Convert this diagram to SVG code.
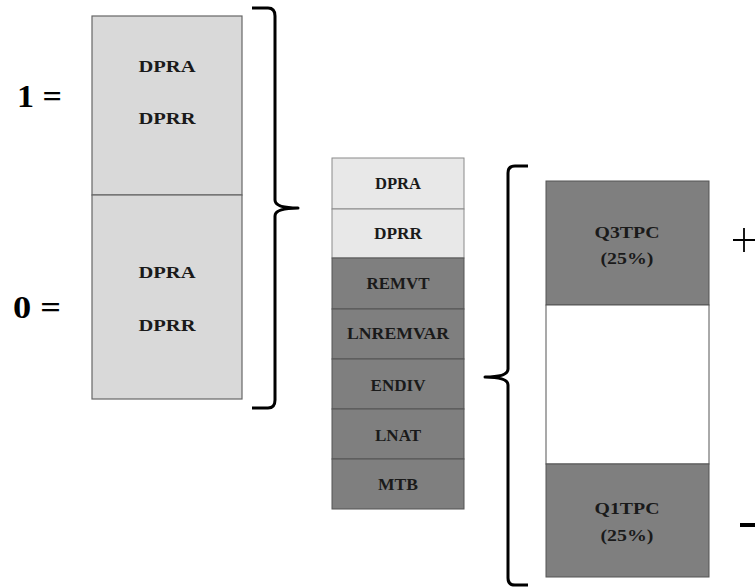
<svg xmlns="http://www.w3.org/2000/svg" width="755" height="587" viewBox="0 0 755 587">
<style>
.t{font-family:"Liberation Serif","Times New Roman",serif;font-weight:bold;font-size:17px;fill:#1a1a1a;text-anchor:middle}
.s{font-size:16px}
.big{font-family:"Liberation Serif","Times New Roman",serif;font-weight:bold;font-size:32px;fill:#000}
.light{fill:#d9d9d9;stroke:#666;stroke-width:1.2}
.pale{fill:#e8e8e8;stroke:#8a8a8a;stroke-width:1}
.dark{fill:#7f7f7f;stroke:#555;stroke-width:1}
.white{fill:#fff;stroke:#555;stroke-width:1}
.br{fill:none;stroke:#000;stroke-width:3;stroke-linejoin:round}
</style>
<rect width="755" height="587" fill="#fff"/>
<g id="label-1"><text class="big" x="17" y="107" textLength="45" lengthAdjust="spacingAndGlyphs">1 =</text></g>
<g id="label-0"><text class="big" x="13" y="318" textLength="48" lengthAdjust="spacingAndGlyphs">0 =</text></g>
<g id="box-1">
<rect class="light" x="92" y="16" width="150" height="179"/>
<text class="t" x="167" y="72" textLength="57" lengthAdjust="spacingAndGlyphs">DPRA</text>
<text class="t" x="167" y="124" textLength="57" lengthAdjust="spacingAndGlyphs">DPRR</text>
</g>
<g id="box-0">
<rect class="light" x="92" y="195" width="150" height="204"/>
<text class="t" x="167" y="278" textLength="57" lengthAdjust="spacingAndGlyphs">DPRA</text>
<text class="t" x="167" y="331" textLength="57" lengthAdjust="spacingAndGlyphs">DPRR</text>
</g>
<g id="stack">
<g id="s-dpra"><rect class="pale" x="332" y="158" width="132" height="51"/><text class="t s" x="398" y="189" textLength="46" lengthAdjust="spacingAndGlyphs">DPRA</text></g>
<g id="s-dprr"><rect class="pale" x="332" y="209" width="132" height="49"/><text class="t s" x="398" y="239" textLength="48" lengthAdjust="spacingAndGlyphs">DPRR</text></g>
<g id="s-remvt"><rect class="dark" x="332" y="258" width="132" height="51"/><text class="t s" x="398" y="289" textLength="63" lengthAdjust="spacingAndGlyphs">REMVT</text></g>
<g id="s-lnremvar"><rect class="dark" x="332" y="309" width="132" height="50"/><text class="t s" x="398" y="339" textLength="102" lengthAdjust="spacingAndGlyphs">LNREMVAR</text></g>
<g id="s-endiv"><rect class="dark" x="332" y="359" width="132" height="50"/><text class="t s" x="398" y="391" textLength="55" lengthAdjust="spacingAndGlyphs">ENDIV</text></g>
<g id="s-lnat"><rect class="dark" x="332" y="409" width="132" height="50"/><text class="t s" x="398" y="441" textLength="46" lengthAdjust="spacingAndGlyphs">LNAT</text></g>
<g id="s-mtb"><rect class="dark" x="332" y="459" width="132" height="50"/><text class="t s" x="398" y="490" textLength="40" lengthAdjust="spacingAndGlyphs">MTB</text></g>
</g>
<g id="q3">
<rect class="dark" x="546" y="181" width="163" height="124"/>
<text class="t" x="627" y="238" textLength="65" lengthAdjust="spacingAndGlyphs">Q3TPC</text>
<text class="t" x="627" y="264" textLength="53" lengthAdjust="spacingAndGlyphs">(25%)</text>
</g>
<g id="mid"><rect class="white" x="546" y="305" width="163" height="159"/></g>
<g id="q1">
<rect class="dark" x="546" y="464" width="163" height="113"/>
<text class="t" x="627" y="514" textLength="65" lengthAdjust="spacingAndGlyphs">Q1TPC</text>
<text class="t" x="627" y="541" textLength="53" lengthAdjust="spacingAndGlyphs">(25%)</text>
</g>
<g id="plus"><path d="M733,240 H755 M744,228 V252" stroke="#000" stroke-width="1.8" fill="none"/></g>
<g id="minus"><rect x="740" y="523" width="15" height="4" fill="#000"/></g>
<g id="connectors">
<path class="br" d="M252,8 H268 Q275,8 275,16 V200 Q275,208 298,208 Q275,208 275,216 V400 Q275,408 268,408 H252"/>
<path class="br" d="M528,166 H515 Q508,166 508,173 V369 Q508,377 485,377 Q508,377 508,385 V578 Q508,585 515,585 H528"/>
</g>
</svg>
